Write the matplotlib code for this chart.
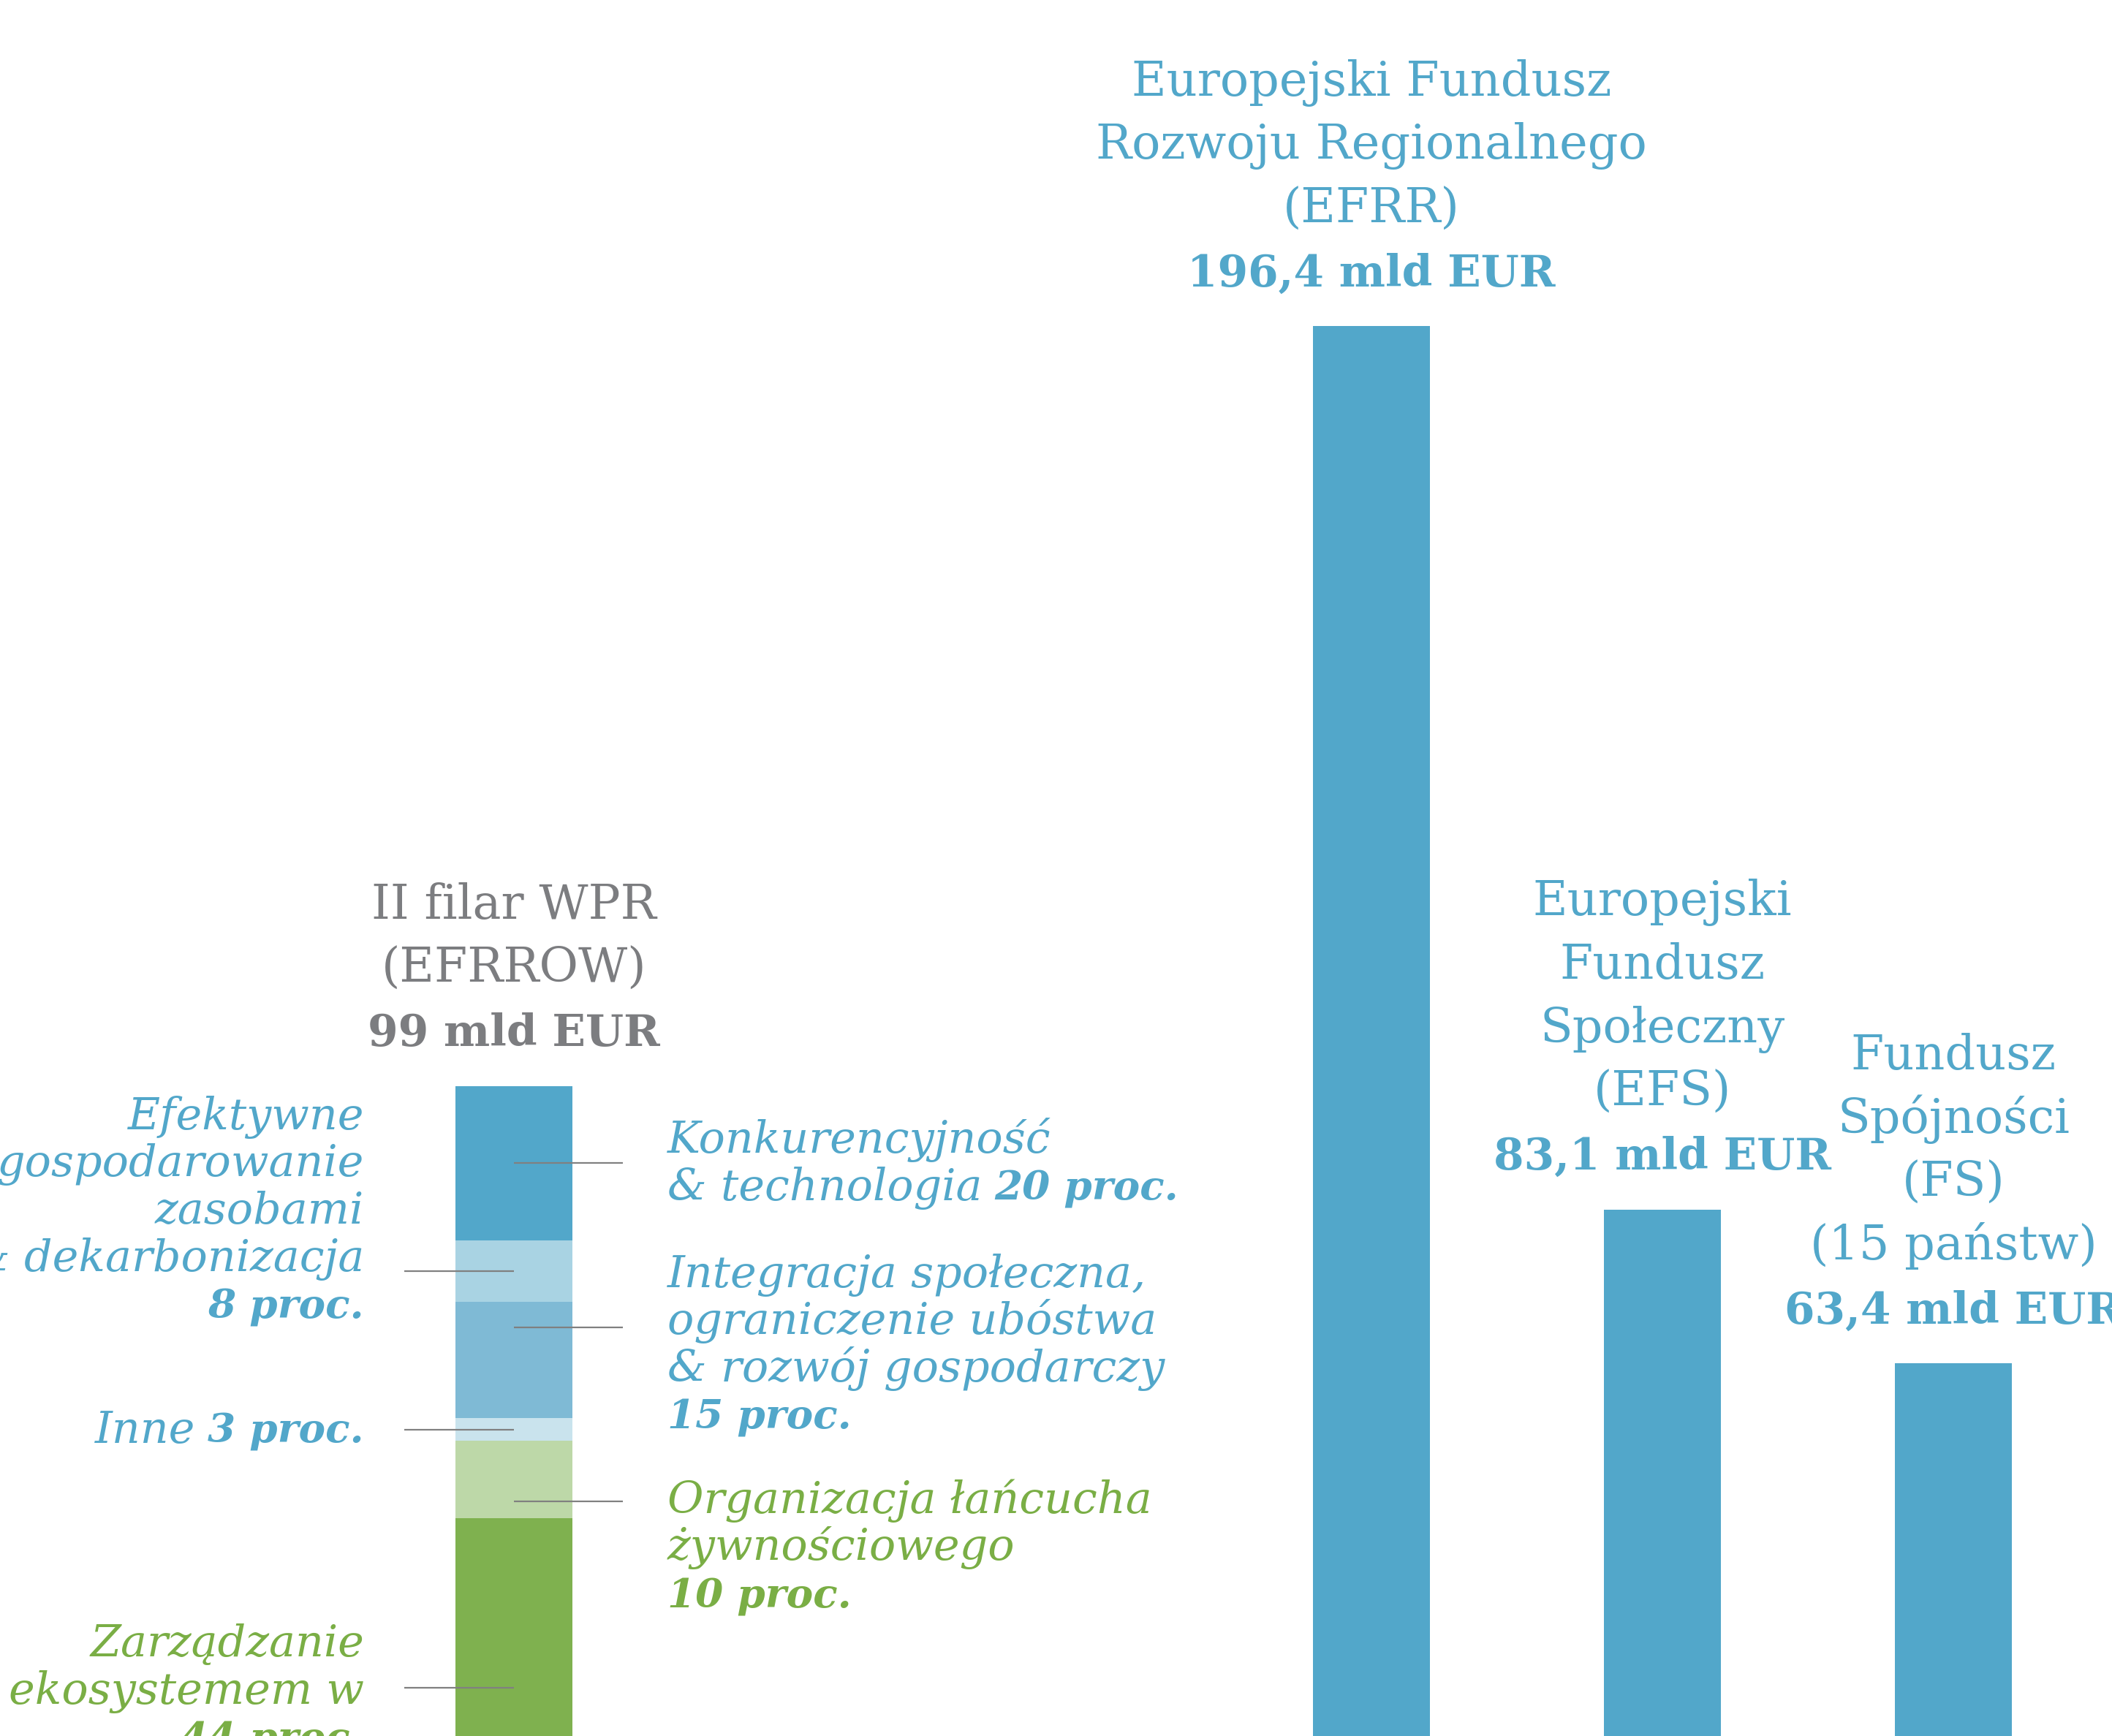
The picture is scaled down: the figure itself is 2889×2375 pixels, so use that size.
import numpy as np
import matplotlib.pyplot as plt
from matplotlib.transforms import offset_copy

# --- data -------------------------------------------------------------
fund_names = [
    ["II filar WPR", "(EFRROW)"],
    ["Europejski Fundusz", "Rozwoju Regionalnego", "(EFRR)"],
    ["Europejski", "Fundusz", "Społeczny", "(EFS)"],
    ["Fundusz", "Spójności", "(FS)", "(15 państw)"],
]
fund_values = [99, 196.4, 83.1, 63.4]
fund_value_labels = ["99 mld EUR", "196,4 mld EUR", "83,1 mld EUR", "63,4 mld EUR"]

# EFRROW split, listed top to bottom
share_lines = [
    ["Konkurencyjność", "& technologia"],
    ["Efektywne", "gospodarowanie", "zasobami", "& dekarbonizacja"],
    ["Integracja społeczna,", "ograniczenie ubóstwa", "& rozwój gospodarczy"],
    ["Inne"],
    ["Organizacja łańcucha", "żywnościowego"],
    ["Zarządzanie", "ekosystemem w"],
]
share_pct = [20, 8, 15, 3, 10, 44]

# --- style / layout ---------------------------------------------------
BLUE = "#52A7CA"
GREEN = "#7AAE45"
GRAY = "#7C7D80"
seg_colors = ["#52A7CA", "#A9D3E3", "#7FBAD5", "#C9E3ED", "#BDD8A8", "#7FB14F"]
seg_text_colors = [BLUE, BLUE, BLUE, BLUE, GREEN, GREEN]
fund_colors = [GRAY, BLUE, BLUE, BLUE]
pct_inline = [True, False, False, True, False, False]
side = ["right", "left", "right", "left", "right", "left"]
leader_frac = [0.5, 0.5, 0.22, 0.5, 0.78, 0.5]   # position of leader inside segment, from top
block_dy = [10, 140, 40, -13, -11.5, 31]          # first baseline above leader (pt)

xs = [0, 2.948, 3.948, 4.948]
bar_w = 0.402
FONT = "DejaVu Serif"
DPI = 100

fig = plt.figure(figsize=(28.89, 23.75), dpi=DPI)
ax = fig.add_axes([0, 0, 1, 1])
ax.set_xlim(-1.766, 5.493)
ax.set_ylim(15.63, 238.24)
ax.axis("off")
renderer = fig.canvas.get_renderer()


def width_pt(s, **kw):
    t = ax.text(0, 0, s, fontfamily=FONT, **kw)
    w = t.get_window_extent(renderer).width * 72 / DPI
    t.remove()
    return w


def draw_runs(x, y, runs, ha, dx, dy, color, size, bold_size, style):
    # runs: list of (text, weight); placed on one baseline
    gap = 0.28 * size
    sizes = [bold_size if w == "bold" else size for _, w in runs]
    widths = [width_pt(r, fontsize=s, fontstyle=style, fontweight=w)
              for (r, w), s in zip(runs, sizes)]
    total = sum(widths) + gap * (len(runs) - 1)
    cur = dx if ha == "left" else dx - total
    for (r, w), wd, s in zip(runs, widths, sizes):
        tr = offset_copy(ax.transData, fig=fig, x=cur, y=dy, units="points")
        ax.text(x, y, r, transform=tr, ha="left", va="baseline", color=color,
                fontsize=s, fontstyle=style, fontweight=w, fontfamily=FONT)
        cur += wd + gap


# --- bars -------------------------------------------------------------
ax.bar(xs[1:], fund_values[1:], width=bar_w, color=BLUE, bottom=0)

vals = np.array(share_pct[::-1]) * fund_values[0] / 100
bottoms = np.concatenate([[0], np.cumsum(vals)[:-1]])
ax.bar([xs[0]] * len(vals), vals, width=bar_w, bottom=bottoms,
       color=seg_colors[::-1])

# --- fund titles ------------------------------------------------------
name_size = 47
value_size = 43
line_sp = 62.6
for x, v, names, val, c in zip(xs, fund_values, fund_names, fund_value_labels, fund_colors):
    base = 39.6
    tr = offset_copy(ax.transData, fig=fig, x=0, y=base, units="points")
    ax.text(x, v, val, transform=tr, ha="center", va="baseline", color=c,
            fontsize=value_size, fontweight="bold", fontfamily=FONT)
    for i, ln in enumerate(names[::-1]):
        tr = offset_copy(ax.transData, fig=fig, x=0, y=base + line_sp * (i + 1), units="points")
        ax.text(x, v, ln, transform=tr, ha="center", va="baseline", color=c,
                fontsize=name_size, fontfamily=FONT)

# --- segment labels ---------------------------------------------------
lab_size = 43.5
lab_bold = 39.5
lab_sp = 46.6
tops = fund_values[0] - np.concatenate([[0], np.cumsum(np.array(share_pct) * fund_values[0] / 100)[:-1]])
lead_dx = 0.376
for i, lines in enumerate(share_lines):
    seg_h = share_pct[i] * fund_values[0] / 100
    ly = tops[i] - leader_frac[i] * seg_h
    if side[i] == "right":
        ax.plot([xs[0], xs[0] + lead_dx], [ly, ly], color="#808080", lw=1.6, solid_capstyle="butt")
        ha, dx = "left", 151
    else:
        ax.plot([xs[0] - lead_dx, xs[0]], [ly, ly], color="#808080", lw=1.6, solid_capstyle="butt")
        ha, dx = "right", -147.5
    pct = f"{share_pct[i]} proc."
    rows = [[(ln, "normal")] for ln in lines]
    if pct_inline[i]:
        rows[-1].append((pct, "bold"))
    else:
        rows.append([(pct, "bold")])
    for j, runs in enumerate(rows):
        draw_runs(xs[0], ly, runs, ha, dx, block_dy[i] - lab_sp * j,
                  seg_text_colors[i], lab_size, lab_bold, "italic")

fig.savefig("out.png", dpi=DPI, facecolor="white")
